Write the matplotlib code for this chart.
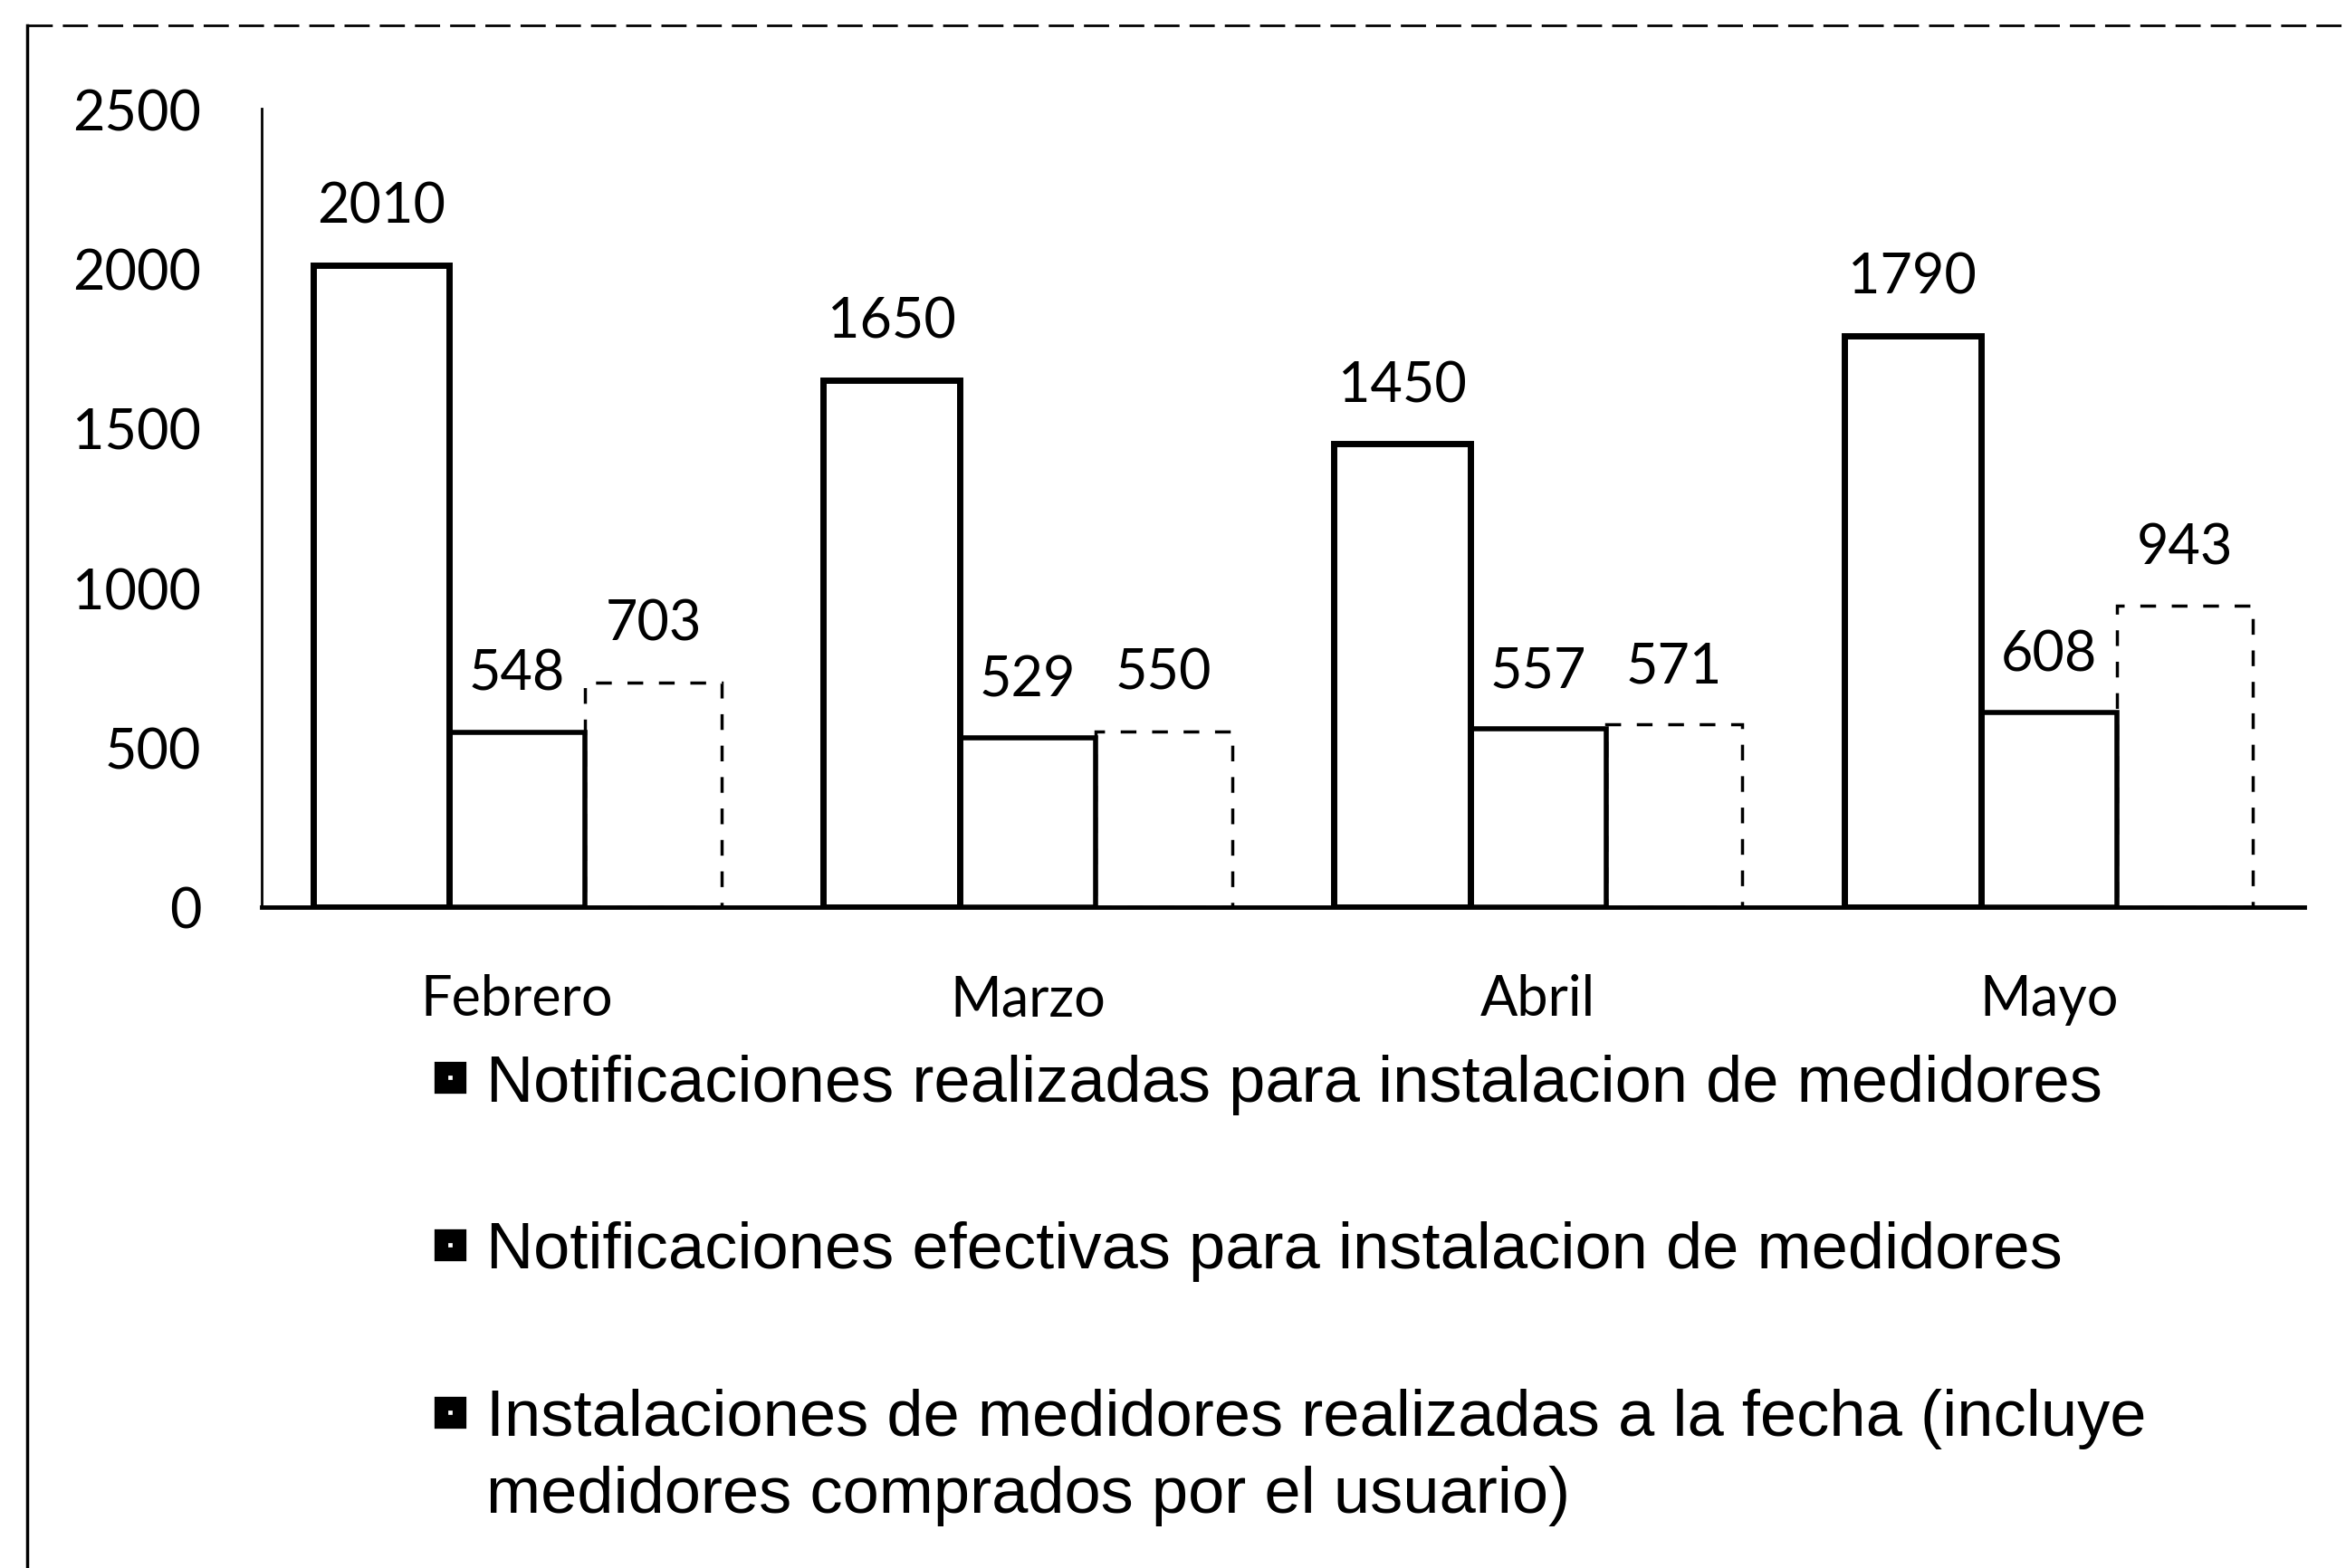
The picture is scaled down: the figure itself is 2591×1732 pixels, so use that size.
import numpy as np
import matplotlib
matplotlib.use('Agg')
import matplotlib.pyplot as plt
from matplotlib.lines import Line2D

meses = ['Febrero', 'Marzo', 'Abril', 'Mayo']
realizadas = [2010, 1650, 1450, 1790]
efectivas = [548, 529, 557, 608]
instalaciones = [703, 550, 571, 943]
series_names = ['Notificaciones realizadas para instalacion de medidores',
                'Notificaciones efectivas para instalacion de medidores',
                'Instalaciones de medidores realizadas a la fecha (incluye']
series3_cont = 'medidores comprados por el usuario)'
yticks = [0, 500, 1000, 1500, 2000, 2500]

num_font = 'Lato'
leg_font = 'Liberation Sans'

fig = plt.figure(figsize=(25.91, 17.33), dpi=100)
ax = fig.add_axes([0.1116, 0.4214, 0.8705, 0.5086])

x = np.arange(len(meses))
w = 0.8 / 3

b1 = ax.bar(x - w, realizadas, w, facecolor='white', edgecolor='black', linewidth=5, zorder=3)
b2 = ax.bar(x, efectivas, w, facecolor='white', edgecolor='black', linewidth=4, zorder=2)
b3 = ax.bar(x + w, instalaciones, w, facecolor='white', edgecolor='black', linewidth=2.5,
            linestyle=(0, (5, 5)), zorder=1)

for bars, vals in [(b1, realizadas), (b2, efectivas), (b3, instalaciones)]:
    for r, v in zip(bars, vals):
        ax.annotate(str(v), (r.get_x() + r.get_width() / 2, v), xytext=(0, 26),
                    textcoords='offset points', ha='center', va='bottom',
                    fontsize=44, family=num_font)

ax.set_xlim(-0.5, 3.5)
ax.set_ylim(0, 2500)
ax.set_yticks(yticks)
ax.set_xticks(x)
ax.set_xticklabels(meses)
for lab in ax.get_xticklabels() + ax.get_yticklabels():
    lab.set_fontsize(44)
    lab.set_family(num_font)
ax.tick_params(axis='x', length=0, pad=53)
ax.tick_params(axis='y', length=0, pad=48)
ax.spines['top'].set_visible(False)
ax.spines['right'].set_visible(False)
ax.spines['left'].set_linewidth(2)
ax.spines['bottom'].set_linewidth(3.5)

handles = [Line2D([], [], marker='s', linestyle='none', markersize=15,
                  markerfacecolor='white', markeredgecolor='black', markeredgewidth=11)
           for _ in series_names]
leg = fig.legend(handles, series_names, loc='upper left', bbox_to_anchor=(0.185, 0.328),
                 frameon=False, prop={'family': leg_font, 'size': 52}, handlelength=0.5,
                 handletextpad=0.3, labelspacing=1.63, borderpad=0, borderaxespad=0)

# segunda linea de la tercera entrada de la leyenda
fig.canvas.draw()
bb = leg.get_texts()[2].get_window_extent().transformed(fig.transFigure.inverted())
fig.text(bb.x0, 1 - 1000 / 1049, series3_cont, family=leg_font, fontsize=52,
         ha='left', va='center')

# borde del recuadro escaneado
fig.add_artist(Line2D([0.0115, 0.0115], [0, 0.983], transform=fig.transFigure,
                      color='black', linewidth=2.5))
fig.add_artist(Line2D([0.0115, 1.0], [0.983, 0.983], transform=fig.transFigure,
                      color='black', linewidth=2, dashes=(10, 4)))

fig.savefig('out.png', dpi=100)
